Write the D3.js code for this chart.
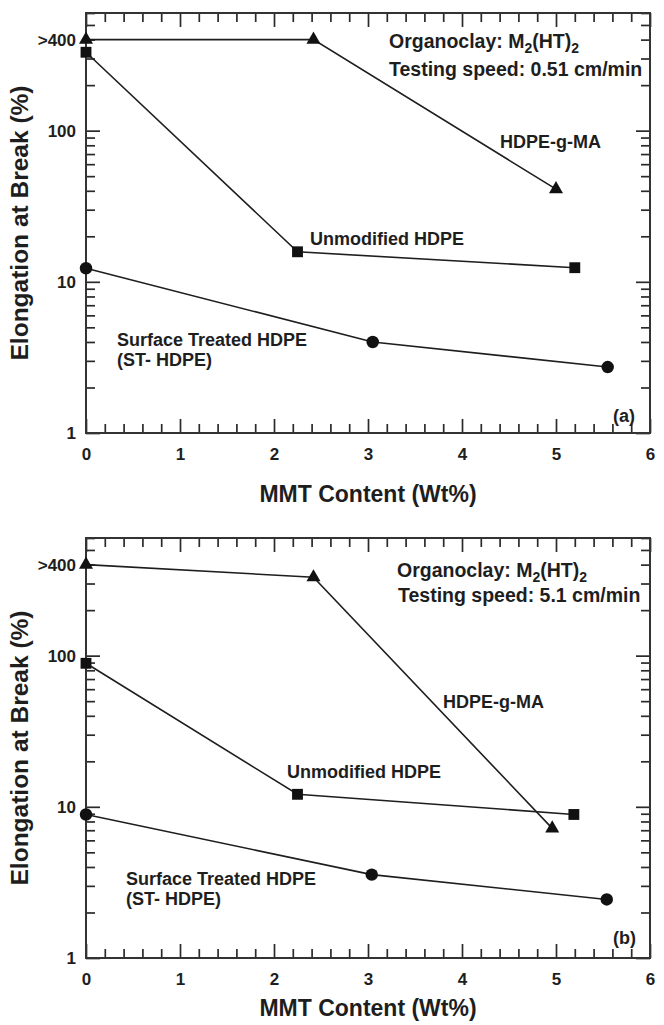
<!DOCTYPE html>
<html>
<head>
<meta charset="utf-8">
<script src="https://cdn.jsdelivr.net/npm/d3@7"></script>
<style>
  body { margin: 0; background: #fff; }
  svg { display: block; font-family: "Liberation Sans", Arial, sans-serif; font-weight: bold; }
</style>
</head>
<body>
<div id="chart"></div>
<script>
"use strict";

// panel (a): testing speed 0.51 cm/min
const gmaX_a = [0, 2.42, 5.0];
const gmaY_a = [400, 400, 41];
const unmodX_a = [0, 2.25, 5.2];
const unmodY_a = [330, 15.8, 12.4];
const stX_a = [0, 3.05, 5.55];
const stY_a = [12.3, 4.0, 2.73];

// panel (b): testing speed 5.1 cm/min
const gmaX_b = [0, 2.42, 4.96];
const gmaY_b = [400, 330, 7.2];
const unmodX_b = [0, 2.25, 5.19];
const unmodY_b = [89, 12.1, 8.9];
const stX_b = [0, 3.04, 5.54];
const stY_b = [8.9, 3.56, 2.44];

const xTickValues = [0, 1, 2, 3, 4, 5, 6];
const yTickValues = [1, 10, 100, 400];
const yTickLabels = ["1", "10", "100", ">400"];
const speeds = ["0.51", "5.1"];
const panelTags = ["(a)", "(b)"];

const W = 664, H = 1025;
const left = 86, right = 650, panelH = 420;
const ink = "#1e1e1e";

const svg = d3.select("#chart").append("svg")
  .attr("width", W)
  .attr("height", H);

const xScale = d3.scaleLinear().domain([0, 6]).range([0, right - left]);
const yScale = d3.scaleLog().domain([1, 600]).range([panelH, 0]);

const xMinor = d3.range(0, 6.01, 0.2).filter(v => Math.abs(v - Math.round(v)) > 0.01);
const yMinor = [];
[1, 10, 100].forEach(d => {
  for (let k = 2; k <= 9; k++) {
    if (d * k <= 600) yMinor.push(d * k);
  }
});

function zip(xs, ys) {
  return xs.map((x, i) => [x, ys[i]]);
}

function drawPanel(top, p) {
  const g = svg.append("g").attr("transform", `translate(${left},${top})`);
  const w = right - left;
  const noText = () => "";

  // tick marks on all four sides, pointing inward (major 14px, minor 9px)
  const sides = [
    [() => d3.axisBottom(xScale), `translate(0,${panelH})`, xTickValues, xMinor],
    [() => d3.axisTop(xScale), "translate(0,0)", xTickValues, xMinor],
    [() => d3.axisLeft(yScale), "translate(0,0)", [1, 10, 100], yMinor],
    [() => d3.axisRight(yScale), `translate(${w},0)`, [1, 10, 100], yMinor]
  ];
  sides.forEach(([mk, tr, major, minor]) => {
    g.append("g").attr("transform", tr)
      .call(mk().tickValues(major).tickSize(-14).tickFormat(noText))
      .call(s => s.select(".domain").remove());
    g.append("g").attr("transform", tr)
      .call(mk().tickValues(minor).tickSize(-9).tickFormat(noText))
      .call(s => s.select(".domain").remove());
  });
  g.selectAll(".tick line").attr("stroke", "#2a2a2a").attr("stroke-width", 1.7);

  // tick labels
  const xl = g.append("g").attr("transform", `translate(0,${panelH})`)
    .call(d3.axisBottom(xScale).tickValues(xTickValues).tickSize(0).tickPadding(15)
      .tickFormat(d3.format("d")));
  const yl = g.append("g")
    .call(d3.axisLeft(yScale).tickValues(yTickValues).tickSize(0).tickPadding(10)
      .tickFormat((d, i) => yTickLabels[i]));
  [xl, yl].forEach(s => {
    s.select(".domain").remove();
    s.selectAll("text").attr("font-size", 17).attr("font-weight", "bold")
      .attr("font-family", "Liberation Sans, Arial, sans-serif").attr("fill", ink);
  });

  // frame
  g.append("rect").attr("width", w).attr("height", panelH)
    .attr("fill", "none").attr("stroke", "#333").attr("stroke-width", 2);

  // series
  const line = d3.line().x(d => xScale(d[0])).y(d => yScale(d[1]));
  const series = [
    [p.gma, d3.symbolTriangle, 85],
    [p.unmod, d3.symbolSquare, 118],
    [p.st, d3.symbolCircle, 122]
  ];
  series.forEach(([pts, sym, size]) => {
    g.append("path").datum(pts)
      .attr("d", line).attr("fill", "none")
      .attr("stroke", ink).attr("stroke-width", 1.6);
    g.selectAll(null).data(pts).enter().append("path")
      .attr("d", d3.symbol().type(sym).size(size))
      .attr("transform", d => `translate(${xScale(d[0])},${yScale(d[1])})`)
      .attr("fill", "#111");
  });

  // annotations
  const txt = (x, y, s, fs) => g.append("text")
    .attr("x", x).attr("y", y).attr("font-size", fs || 18).attr("fill", ink).text(s);

  const org = g.append("text").attr("x", p.orgX).attr("y", p.orgY)
    .attr("font-size", 19.5).attr("fill", ink);
  org.append("tspan").text("Organoclay: M");
  org.append("tspan").attr("dy", 5).attr("font-size", 14).text("2");
  org.append("tspan").attr("dy", -5).text("(HT)");
  org.append("tspan").attr("dy", 5).attr("font-size", 14).text("2");
  txt(p.orgX + p.speedDx, p.speedY, `Testing speed: ${p.speed} cm/min`, 19.5);

  txt(p.gmaLab[0], p.gmaLab[1], "HDPE-g-MA");
  txt(p.unmodLab[0], p.unmodLab[1], "Unmodified HDPE");
  txt(p.stLab[0], p.stLab[1], "Surface Treated HDPE");
  txt(p.stLab[0], p.stLab[1] + 20, "(ST- HDPE)");
  txt(527, p.tagY, p.tag);

  // axis titles
  g.append("text")
    .attr("transform", `translate(${28 - left},${panelH / 2}) rotate(-90)`)
    .attr("text-anchor", "middle").attr("font-size", 24.5).attr("fill", ink)
    .text("Elongation at Break (%)");
  g.append("text")
    .attr("x", w / 2).attr("y", panelH + p.titleDy)
    .attr("text-anchor", "middle").attr("font-size", 23).attr("fill", ink)
    .text("MMT Content (Wt%)");
}

drawPanel(13, {
  gma: zip(gmaX_a, gmaY_a),
  unmod: zip(unmodX_a, unmodY_a),
  st: zip(stX_a, stY_a),
  speed: speeds[0], tag: panelTags[0],
  orgX: 303, orgY: 35, speedDx: 0, speedY: 63,
  gmaLab: [414, 135], unmodLab: [224, 232],
  stLab: [31, 333], tagY: 409, titleDy: 69
});

drawPanel(538, {
  gma: zip(gmaX_b, gmaY_b),
  unmod: zip(unmodX_b, unmodY_b),
  st: zip(stX_b, stY_b),
  speed: speeds[1], tag: panelTags[1],
  orgX: 311, orgY: 39, speedDx: 1, speedY: 64,
  gmaLab: [357, 170], unmodLab: [201, 240],
  stLab: [40, 347], tagY: 406, titleDy: 58
});
</script>
</body>
</html>
